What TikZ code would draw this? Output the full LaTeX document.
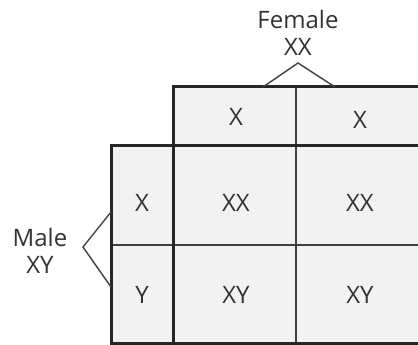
\documentclass[tikz,border=0pt]{standalone}
\usepackage{fontspec}
\setmainfont{Open Sans}
\begin{document}
\begin{tikzpicture}[x=1pt,y=-1pt,
    lbl/.style={font=\fontsize{24}{27}\selectfont, text=black!80, inner sep=0pt, align=center},
    thinline/.style={line width=1.4pt, black!75},
    thickline/.style={line width=3pt, black!85}]
    \useasboundingbox (0,0) rectangle (418,345);
    % shaded cells
    \fill[black!5] (173,87) rectangle (418,145);
    \fill[black!5] (111,145) rectangle (418,343);
    % inner lines
    \draw[thinline] (296,87) -- (296,343);
    \draw[thinline] (111,245) -- (418,245);
    % outlines
    \draw[thickline] (418,87) -- (173,87) -- (173,343);
    \draw[thickline] (418,145) -- (111,145) -- (111,343) -- (418,343);
    % cell texts
    \node[lbl] (egg1) at (236,117) {X};
    \node[lbl] (egg2) at (360,120) {X};
    \node[lbl] (spermx) at (142,203) {X};
    \node[lbl] (sperm_y) at (142,295) {Y};
    \node[lbl] (xx1) at (236,203) {XX};
    \node[lbl] (xx2) at (360,203) {XX};
    \node[lbl] (xy1) at (236,295) {XY};
    \node[lbl] (xy2) at (360,295) {XY};
    % parents
    \node[lbl] (female) at (298,33) {Female\\XX};
    \node[lbl] (male) at (40,251) {Male\\XY};
    \coordinate (ftip) at (298,63);
    \coordinate (fa) at (263,87);
    \coordinate (fb) at (335,87);
    \coordinate (mtip) at (83,247);
    \coordinate (ma) at (111,212);
    \coordinate (mb) at (111,287);
    \draw[thinline] (fa) -- (ftip) -- (fb);
    \draw[thinline] (ma) -- (mtip) -- (mb);
\end{tikzpicture}
\end{document}
